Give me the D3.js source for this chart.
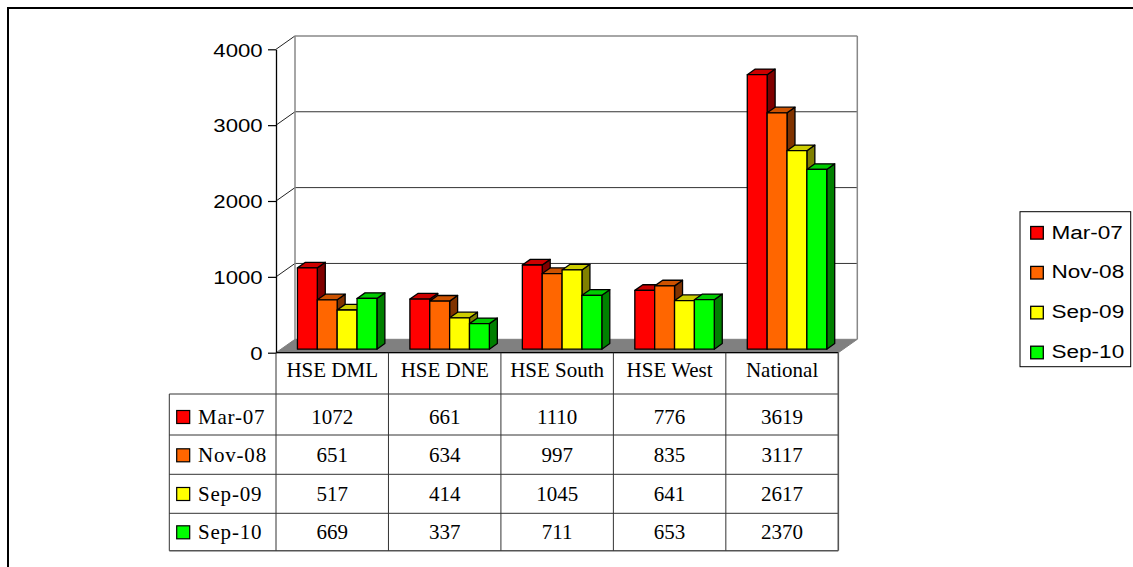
<!DOCTYPE html>
<html>
<head>
<meta charset="utf-8">
<script src="https://cdn.jsdelivr.net/npm/d3@7"></script>
<style>
html,body{margin:0;padding:0;background:#fff;}
svg{display:block;}
</style>
</head>
<body>
<svg id="chart" width="1133" height="567"></svg>
<script>
const categories = ["HSE DML", "HSE DNE", "HSE South", "HSE West", "National"];
const seriesNames = ["Mar-07", "Nov-08", "Sep-09", "Sep-10"];
const mar07 = [1072, 661, 1110, 776, 3619];
const nov08 = [651, 634, 997, 835, 3117];
const sep09 = [517, 414, 1045, 641, 2617];
const sep10 = [669, 337, 711, 653, 2370];
const yTicks = [0, 1000, 2000, 3000, 4000];
const seriesColors = ["#FF0000", "#FF6600", "#FFFF00", "#00FF00"];

const seriesValues = [mar07, nov08, sep09, sep10];

const svg = d3.select("#chart");

// layout
const X0 = 276, X1 = 838.3;
const DX = 19, DY = -13.4;           // wall depth offset
const D1 = 0.26, D2 = 0.68;          // bar depth fractions
const sansFont = "'Liberation Sans', Arial, sans-serif";
const serifFont = "'Liberation Serif', 'Times New Roman', serif";

const x = d3.scaleBand().domain(categories).range([X0, X1]).padding(0);
const xs = d3.scaleBand().domain(seriesNames).range([16.5, x.bandwidth() - 16.5]).padding(0);
const y = d3.scaleLinear().domain([0, 4000]).range([352.7, 49.3]);

// outer border
svg.append("rect").attr("x", 8).attr("y", 8).attr("width", 1200).attr("height", 700)
  .attr("fill", "none").attr("stroke", "#000").attr("stroke-width", 2);

// back wall gridlines
const grid = svg.append("g");
yTicks.forEach(t => {
  if (t > 0) {
    grid.append("line").attr("x1", X0).attr("y1", y(t)).attr("x2", X0 + DX).attr("y2", y(t) + DY)
      .attr("stroke", "#222").attr("stroke-width", 1);
    grid.append("line").attr("x1", X0 + DX).attr("y1", y(t) + DY).attr("x2", X1 + DX).attr("y2", y(t) + DY)
      .attr("stroke", t === 4000 ? "#888" : "#333").attr("stroke-width", t === 4000 ? 1.5 : 1);
  }
});
// wall edges
grid.append("line").attr("x1", X0 + DX).attr("y1", y(4000) + DY).attr("x2", X0 + DX).attr("y2", y(0) + DY)
  .attr("stroke", "#888").attr("stroke-width", 1.5);
grid.append("line").attr("x1", X1 + DX).attr("y1", y(4000) + DY).attr("x2", X1 + DX).attr("y2", y(0) + DY)
  .attr("stroke", "#888").attr("stroke-width", 1.5);

// floor
svg.append("polygon")
  .attr("points", [[X0, y(0)], [X1, y(0)], [X1 + DX, y(0) + DY], [X0 + DX, y(0) + DY]].map(p => p.join(",")).join(" "))
  .attr("fill", "#808080").attr("stroke", "#808080").attr("stroke-width", 1);

// bars
function shade(c, k) {
  const r = d3.rgb(c);
  return d3.rgb(r.r * k, r.g * k, r.b * k).formatHex();
}
const bars = svg.append("g");
categories.forEach((cat, ci) => {
  seriesNames.forEach((s, si) => {
    const v = seriesValues[si][ci];
    const w = xs.bandwidth();
    const fx = x(cat) + xs(s) + DX * D1;
    const fy0 = y(0) + DY * D1;
    const fy1 = y(v) + DY * D1;
    const ddx = DX * (D2 - D1), ddy = DY * (D2 - D1);
    const col = seriesColors[si];
    const g = bars.append("g").attr("stroke", "#000").attr("stroke-width", 1.3).attr("stroke-linejoin", "round");
    g.append("polygon").attr("points", [[fx + w, fy1], [fx + w + ddx, fy1 + ddy], [fx + w + ddx, fy0 + ddy], [fx + w, fy0]].map(p => p.join(",")).join(" "))
      .attr("fill", shade(col, 0.5));
    g.append("polygon").attr("points", [[fx, fy1], [fx + ddx, fy1 + ddy], [fx + w + ddx, fy1 + ddy], [fx + w, fy1]].map(p => p.join(",")).join(" "))
      .attr("fill", shade(col, 0.8));
    g.append("rect").attr("x", fx).attr("y", fy1).attr("width", w).attr("height", fy0 - fy1).attr("fill", col);
  });
});

// y axis
const axis = d3.axisLeft(y).tickValues(yTicks).tickSize(8).tickSizeOuter(0).tickFormat(d3.format("d"));
const ag = svg.append("g").attr("transform", `translate(${X0},0)`).call(axis);
ag.select(".domain").attr("stroke", "#000").attr("stroke-width", 1.3);
ag.selectAll(".tick line").attr("stroke", "#000").attr("stroke-width", 1.2);
ag.selectAll(".tick text")
  .attr("x", null).attr("dy", null)
  .attr("transform", "translate(-13.3,6.8) scale(1.18,1)")
  .attr("text-anchor", "end")
  .attr("fill", "#000")
  .style("font-family", sansFont).style("font-size", "18.8px");

// data table
const rowLines = [394, 435, 474.3, 513.3, 550.7];
const rowBase = [424, 462.3, 501, 539.3];
const headerTop = y(0), headerBase = 377.3, tableLeft = 169.3;
const tg = svg.append("g");
const lineCol = "#333";
tg.append("line").attr("x1", X0).attr("x2", X1).attr("y1", headerTop).attr("y2", headerTop).attr("stroke", "#000").attr("stroke-width", 1.3);
rowLines.forEach((ly, i) => {
  tg.append("line").attr("x1", tableLeft).attr("x2", X1).attr("y1", ly).attr("y2", ly)
    .attr("stroke", i === rowLines.length - 1 ? "#555" : lineCol).attr("stroke-width", i === rowLines.length - 1 ? 1.6 : 1);
});
tg.append("line").attr("x1", tableLeft).attr("x2", tableLeft).attr("y1", rowLines[0]).attr("y2", rowLines[4]).attr("stroke", lineCol).attr("stroke-width", 1);
categories.forEach(cat => {
  tg.append("line").attr("x1", x(cat)).attr("x2", x(cat)).attr("y1", headerTop).attr("y2", rowLines[4]).attr("stroke", lineCol).attr("stroke-width", 1);
});
tg.append("line").attr("x1", X1).attr("x2", X1).attr("y1", headerTop).attr("y2", rowLines[4]).attr("stroke", "#555").attr("stroke-width", 1.6);

tg.selectAll("text.hdr").data(categories).join("text").attr("class", "hdr")
  .attr("x", d => x(d) + x.bandwidth() / 2).attr("y", headerBase)
  .attr("text-anchor", "middle").style("font-family", serifFont).style("font-size", "21px").attr("fill", "#000")
  .text(d => d);

seriesNames.forEach((s, si) => {
  const by = rowBase[si];
  tg.append("rect").attr("x", 176.7).attr("y", by - 13.5).attr("width", 13).attr("height", 13)
    .attr("fill", seriesColors[si]).attr("stroke", "#000").attr("stroke-width", 1.2);
  tg.append("text").attr("x", 198).attr("y", by).style("font-family", serifFont).style("font-size", "21px")
    .style("letter-spacing", "0.8px").attr("fill", "#000").text(s);
  categories.forEach((cat, ci) => {
    tg.append("text").attr("x", x(cat) + x.bandwidth() / 2).attr("y", by)
      .attr("text-anchor", "middle").style("font-family", serifFont).style("font-size", "21px").attr("fill", "#000")
      .text(seriesValues[si][ci]);
  });
});

// legend
const lg = svg.append("g");
lg.append("rect").attr("x", 1020).attr("y", 211.7).attr("width", 110.7).attr("height", 155)
  .attr("fill", "#fff").attr("stroke", "#000").attr("stroke-width", 1);
seriesNames.forEach((s, si) => {
  const by = 238.5 + si * 39.9;
  lg.append("rect").attr("x", 1030.7).attr("y", by - 12).attr("width", 12.6).attr("height", 12.6)
    .attr("fill", seriesColors[si]).attr("stroke", "#000").attr("stroke-width", 1.3);
  lg.append("text").attr("transform", `translate(1051.5,${by}) scale(1.2,1)`)
    .style("font-family", sansFont).style("font-size", "18.8px").attr("fill", "#000").text(s);
});
</script>
</body>
</html>
